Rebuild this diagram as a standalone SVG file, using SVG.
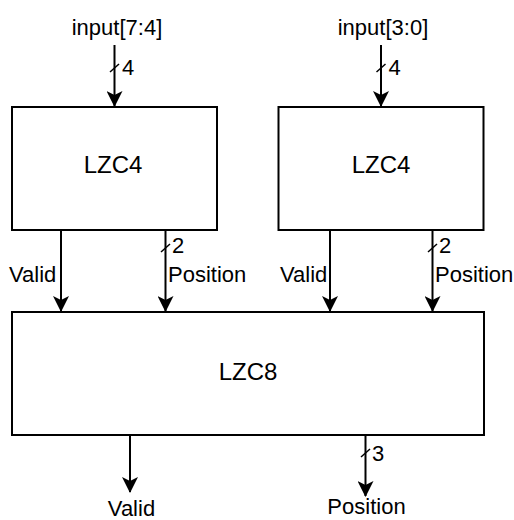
<svg xmlns="http://www.w3.org/2000/svg" width="514" height="520" viewBox="0 0 514 520">
  <defs>
    <marker id="arrow" viewBox="0 0 16 16" refX="15" refY="8" markerWidth="16" markerHeight="16" markerUnits="userSpaceOnUse" orient="auto">
      <path d="M0,0 L16,8 L0,16 L4,8 Z" fill="#000"/>
    </marker>
  </defs>
  <style>
    .box { fill: #fff; stroke: #000; stroke-width: 2; }
    .wire { stroke: #000; stroke-width: 2; fill: none; marker-end: url(#arrow); }
    .bus { stroke: #000; stroke-width: 1.5; fill: none; }
    text { font-family: "Liberation Sans", Arial, Helvetica, sans-serif; fill: #000; }
    .title { font-size: 24px; text-anchor: middle; }
    .lbl { font-size: 22px; }
    .mid { text-anchor: middle; }
  </style>
  <rect width="514" height="520" fill="#fff"/>

  <g id="connectors">
    <!-- inputs into the two LZC4 blocks -->
    <line class="wire" x1="114.5" y1="45" x2="114.5" y2="106"/>
    <line class="bus" x1="110" y1="72" x2="119" y2="64"/>
    <line class="wire" x1="381" y1="45" x2="381" y2="106"/>
    <line class="bus" x1="376.5" y1="72" x2="385.5" y2="64"/>
    <!-- LZC4 outputs into LZC8 -->
    <line class="wire" x1="61" y1="230" x2="61" y2="311"/>
    <line class="wire" x1="165.5" y1="230" x2="165.5" y2="311"/>
    <line class="bus" x1="161" y1="252" x2="170" y2="244"/>
    <line class="wire" x1="330" y1="230" x2="330" y2="311"/>
    <line class="wire" x1="432.5" y1="230" x2="432.5" y2="311"/>
    <line class="bus" x1="428" y1="252" x2="437" y2="244"/>
    <!-- LZC8 outputs -->
    <line class="wire" x1="130" y1="435" x2="130" y2="492"/>
    <line class="wire" x1="365.5" y1="435" x2="365.5" y2="496"/>
    <line class="bus" x1="361" y1="457" x2="370" y2="449"/>

    <text class="lbl" x="122" y="75">4</text>
    <text class="lbl" x="388.5" y="75">4</text>
    <text class="lbl" x="9" y="282">Valid</text>
    <text class="lbl" x="172" y="253">2</text>
    <text class="lbl" x="168" y="282">Position</text>
    <text class="lbl" x="280" y="282">Valid</text>
    <text class="lbl" x="439" y="253">2</text>
    <text class="lbl" x="435" y="282">Position</text>
    <text class="lbl" x="372" y="461">3</text>
  </g>

  <g id="in-hi">
    <text class="lbl mid" x="117" y="35">input[7:4]</text>
  </g>
  <g id="in-lo">
    <text class="lbl mid" x="383" y="35">input[3:0]</text>
  </g>

  <g id="lzc4-hi">
    <rect class="box" x="12" y="107" width="205" height="123"/>
    <text class="title" x="113" y="173">LZC4</text>
  </g>
  <g id="lzc4-lo">
    <rect class="box" x="278.5" y="107" width="205" height="123"/>
    <text class="title" x="381" y="173">LZC4</text>
  </g>
  <g id="lzc8">
    <rect class="box" x="12" y="312" width="472" height="123"/>
    <text class="title" x="248" y="380">LZC8</text>
  </g>

  <g id="out-valid">
    <text class="lbl mid" x="131.5" y="516">Valid</text>
  </g>
  <g id="out-position">
    <text class="lbl mid" x="366.5" y="514">Position</text>
  </g>
</svg>
